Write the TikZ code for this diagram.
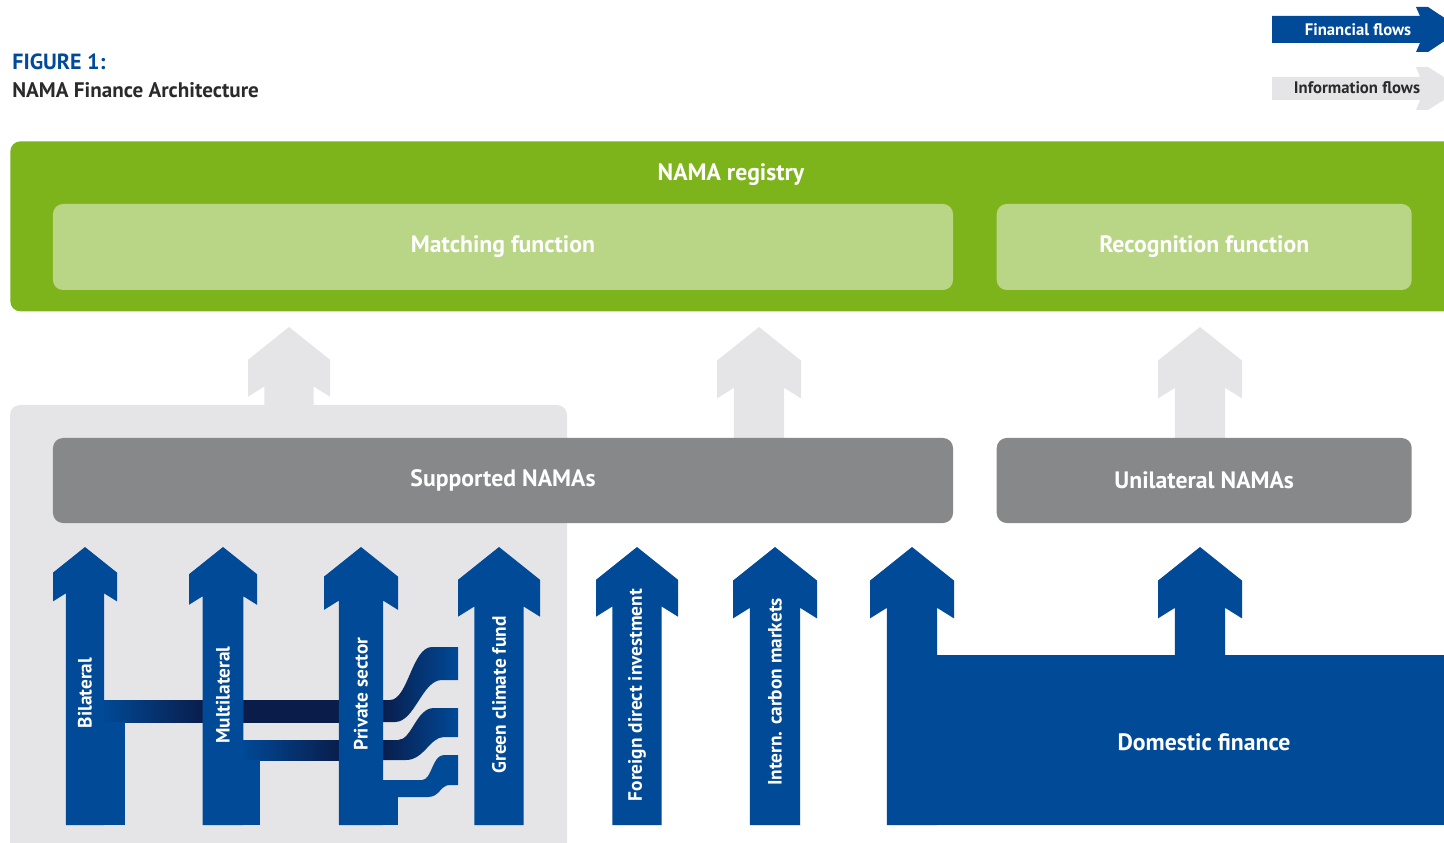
\documentclass[tikz,border=0pt]{standalone}
\usepackage{fontspec}
\setmainfont{PT Sans}
\usetikzlibrary{positioning}
\definecolor{namablue}{HTML}{004A98}
\definecolor{namanavy}{HTML}{0A1C4A}
\definecolor{namagreen}{HTML}{7DB41C}
\definecolor{namalightgreen}{HTML}{B9D586}
\definecolor{namagrey}{HTML}{878889}
\definecolor{namapale}{HTML}{E5E5E7}
\definecolor{namadark}{HTML}{2A2A2A}
\tikzset{
  namabox/.style={rounded corners=2mm, inner sep=0pt, text=white,
    font=\bfseries\fontsize{13.5}{16}\selectfont},
  funcbox/.style={namabox, fill=namalightgreen, minimum height=17.2mm},
  nationbox/.style={namabox, fill=namagrey, minimum height=17mm},
  boxtitle/.style={text=white, inner sep=0pt, font=\bfseries\fontsize{13.5}{16}\selectfont},
  flowlabel/.style={rotate=90, text=white, inner sep=0pt,
    font=\bfseries\fontsize{11}{12}\selectfont},
  legendtext/.style={inner sep=0pt, font=\bfseries\fontsize{9.5}{11}\selectfont}
}
% block arrow pointing up: colour, x centre, tip y, head half width, bottom y
\newcommand{\flowarrow}[5]{%
  \fill[#1] ({#2-0.6*#4},#5) -- ({#2-0.6*#4},{#3+1.45*#4}) -- ({#2-#4},{#3+1.7*#4})
    -- ({#2-#4},{#3+0.8*#4}) -- (#2,#3) -- ({#2+#4},{#3+0.8*#4})
    -- ({#2+#4},{#3+1.7*#4}) -- ({#2+0.6*#4},{#3+1.45*#4}) -- ({#2+0.6*#4},#5) -- cycle;}

\begin{document}
\begin{tikzpicture}[x=0.2mm, y=-0.2mm]
  \useasboundingbox (0,0) rectangle (1444,843);
  \clip (0,0) rectangle (1444,843);

  % title
  \node[anchor=west, inner sep=0pt, text=namablue, font=\bfseries\fontsize{12.5}{14}\selectfont]
    (fig) at (12,62) {FIGURE 1:};
  \node[anchor=west, inner sep=0pt, text=namadark, font=\bfseries\fontsize{12}{14}\selectfont]
    (figname) at (12,90) {NAMA Finance Architecture};

  % legend
  \fill[namablue] (1272,16) -- (1420,16) -- (1416,7) -- (1428,7) -- (1462,29.5)
    -- (1428,52) -- (1416,52) -- (1420,43) -- (1272,43) -- cycle;
  \node[legendtext, text=white] (finflows) at (1358,30) {Financial flows};
  \fill[namapale] (1272,77) -- (1420,77) -- (1416,67) -- (1428,67) -- (1462,88.5)
    -- (1428,110) -- (1416,110) -- (1420,100) -- (1272,100) -- cycle;
  \node[legendtext, text=namadark] (infoflows) at (1357,88) {Information flows};

  % supported area
  \fill[namapale, rounded corners=2mm] (10,860) -- (10,405) -- (567,405) -- (567,860) -- cycle;

  % information flows
  \flowarrow{namapale}{289}{327}{41}{445}
  \flowarrow{namapale}{759}{327}{42}{445}
  \flowarrow{namapale}{1200}{327}{42}{445}

  % registry
  \node[fill=namagreen, rounded corners=2mm, inner sep=0pt, anchor=north west,
    minimum width=292mm, minimum height=34mm] (registry) at (10,141) {};
  \node[boxtitle] (regtitle) at (731,175) {NAMA registry};
  \node[funcbox, minimum width=180mm] (match) at (503,247) {Matching function};
  \node[funcbox, minimum width=83mm, right=8.6mm of match] (recog) {Recognition function};

  % NAMAs
  \node[nationbox, minimum width=180mm] (supported) at (503,480.5) {Supported NAMAs};
  \node[nationbox, minimum width=83mm, right=8.6mm of supported] (unilateral) {Unilateral NAMAs};

  % branches behind the arrows
  \shade[left color=namablue, right color=namanavy] (100,700) rectangle (206,722);
  \shade[left color=namanavy, middle color=namablue, right color=namanavy] (240,700) rectangle (342,722);
  \shade[left color=namablue, right color=namanavy] (240,740) rectangle (342,760);
  \shade[left color=namanavy, right color=namablue] (380,700) -- (390,700)
    .. controls (408,700) and (412,647) .. (432,647) -- (458,647) -- (458,680) -- (442,680)
    .. controls (422,680) and (415,722) .. (395,722) -- (380,722) -- cycle;
  \shade[left color=namanavy, right color=namablue] (380,740) -- (398,740)
    .. controls (412,740) and (416,708) .. (434,708) -- (458,708) -- (458,737) -- (444,737)
    .. controls (430,737) and (424,760) .. (406,760) -- (380,760) -- cycle;
  \fill[namablue] (380,780) -- (422,780) .. controls (432,780) and (432,755) .. (444,755)
    -- (458,755) -- (458,785) -- (450,785) .. controls (440,785) and (440,797) .. (428,797)
    -- (380,797) -- cycle;

  % financial flows
  \flowarrow{namablue}{85}{547}{32}{825}
  \fill[namablue] (100,722) rectangle (125,825);
  \flowarrow{namablue}{223}{547}{34}{825}
  \fill[namablue] (240,760) rectangle (260,825);
  \flowarrow{namablue}{361}{547}{37}{825}
  \fill[namablue] (380,797) rectangle (398,825);
  \flowarrow{namablue}{499}{547}{41}{825}
  \flowarrow{namablue}{637}{547}{41}{825}
  \flowarrow{namablue}{775}{547}{42}{825}
  \flowarrow{namablue}{912}{547}{42}{825}
  \flowarrow{namablue}{1200}{547}{42}{660}
  \fill[namablue] (930,655) rectangle (1450,825);

  \node[flowlabel] (bilat) at (85,693) {Bilateral};
  \node[flowlabel] (multilat) at (223,695) {Multilateral};
  \node[flowlabel] (private) at (361,694) {Private sector};
  \node[flowlabel] (gcf) at (499,695) {Green climate fund};
  \node[flowlabel] (fdi) at (637,695) {Foreign direct investment};
  \node[flowlabel] (carbon) at (775,692) {Intern. carbon markets};
  \node[boxtitle] (domestic) at (1204,742) {Domestic finance};
\end{tikzpicture}
\end{document}
